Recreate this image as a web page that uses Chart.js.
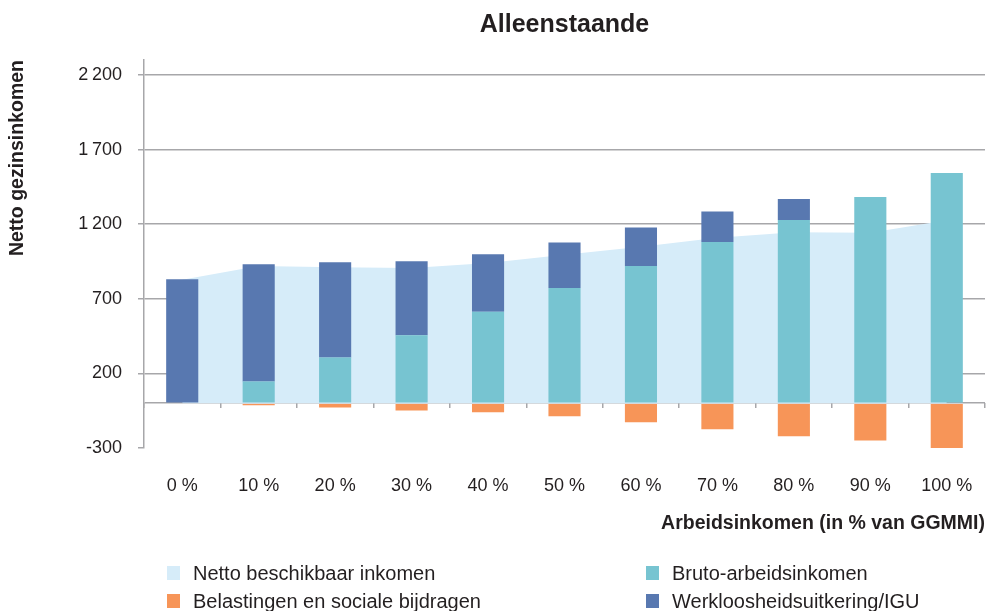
<!DOCTYPE html>
<html>
<head>
<meta charset="utf-8">
<script src="https://cdn.jsdelivr.net/npm/chart.js@4/dist/chart.umd.min.js"></script>
<style>
  html, body { margin: 0; padding: 0; background: #fff; }
  #wrap { position: relative; width: 986px; height: 611px; overflow: hidden; }
  canvas { position: absolute; left: 0; top: 0; }
  .leg { position: absolute; font-family: "Liberation Sans", Arial, sans-serif; font-size: 20px; color: #231f20; line-height: 22px; white-space: nowrap; }
  .leg .sw { position: absolute; left: 0; top: 4px; width: 13px; height: 14px; }
  .leg .tx { position: absolute; left: 26px; top: 0; }
</style>
</head>
<body>
<div id="wrap">
  <canvas id="c" width="986" height="611"></canvas>
  <div id="legend"></div>
</div>
<script>
// ---- data ----
const categories = ['0 %', '10 %', '20 %', '30 %', '40 %', '50 %', '60 %', '70 %', '80 %', '90 %', '100 %'];
const nettoInkomen = [828, 920, 912, 906, 940, 995, 1048, 1109, 1146, 1142, 1226];
const brutoArbeidsinkomen = [0, 146, 307, 455, 613, 773, 920, 1080, 1227, 1382, 1543];
const werkloosheidsuitkering = [831, 786, 638, 497, 385, 304, 257, 204, 141, 0, 0];
const belastingen = [0, -14, -28, -48, -61, -88, -128, -174, -222, -249, -316];
const yTicks = [-300, 0, 200, 700, 1200, 1700, 2200];
const seriesNames = ['Netto beschikbaar inkomen', 'Bruto-arbeidsinkomen', 'Belastingen en sociale bijdragen', 'Werkloosheidsuitkering/IGU'];

const colors = {
  netto: '#d6ecf9',
  bruto: '#77c4d1',
  belasting: '#f79558',
  ww: '#5878b0',
  grid: '#a7a7aa',
  text: '#231f20'
};
const FONT = '"Liberation Sans", Arial, sans-serif';

const fmt = v => {
  if (v === 0) return '';
  const s = String(Math.abs(v)).replace(/\B(?=(\d{3})+(?!\d))/g, '\u2009');
  return (v < 0 ? '-' : '') + s;
};

new Chart(document.getElementById('c'), {
  data: {
    labels: categories,
    datasets: [
      { type: 'line', label: seriesNames[0], data: nettoInkomen, stack: 'netto', order: 10,
        backgroundColor: colors.netto, borderWidth: 0, pointRadius: 0, fill: 'origin', tension: 0 },
      { type: 'bar', label: seriesNames[1], data: brutoArbeidsinkomen, stack: 'a', order: 1,
        backgroundColor: colors.bruto, barPercentage: 0.42, categoryPercentage: 1 },
      { type: 'bar', label: seriesNames[3], data: werkloosheidsuitkering, stack: 'a', order: 1,
        backgroundColor: colors.ww, barPercentage: 0.42, categoryPercentage: 1 },
      { type: 'bar', label: seriesNames[2], data: belastingen, stack: 'a', order: 1,
        backgroundColor: colors.belasting, barPercentage: 0.42, categoryPercentage: 1 }
    ]
  },
  options: {
    responsive: false,
    animation: false,
    devicePixelRatio: 1,
    layout: { padding: { left: 0, right: 1, top: 0, bottom: 76 } },
    plugins: {
      legend: { display: false },
      tooltip: { enabled: false },
      title: {
        display: true, text: 'Alleenstaande', fullSize: false,
        color: colors.text,
        font: { family: FONT, size: 25, weight: 'bold', lineHeight: 1.2 },
        padding: { top: 10, bottom: 20 }
      }
    },
    scales: {
      x: {
        type: 'category', stacked: true, position: 'bottom',
        afterFit: s => { s.height = 87; s.paddingLeft = 0; s.paddingRight = 0; },
        grid: { display: false, drawTicks: false },
        border: { display: false },
        ticks: { color: colors.text, font: { family: FONT, size: 18 }, padding: 27, maxRotation: 0, autoSkip: false },
        title: { display: true, text: 'Arbeidsinkomen (in % van GGMMI)', align: 'end', color: colors.text,
          font: { family: FONT, size: 19.5, weight: 'bold', lineHeight: 1.2 }, padding: { top: 0, bottom: 0 } }
      },
      x2: {
        type: 'category', labels: categories, position: { y: 0 }, offset: true,
        afterFit: s => { s.paddingLeft = 0; s.paddingRight = 0; },
        grid: { offset: true, drawOnChartArea: false, drawTicks: true, tickLength: 5, color: colors.grid, lineWidth: 1.5 },
        border: { display: false },
        ticks: { display: false }
      },
      y: {
        type: 'linear', stacked: true, min: -300, max: 2300,
        afterBuildTicks: s => { s.ticks = yTicks.map(v => ({ value: v })); },
        afterFit: s => { s.width = 144; },
        grid: {
          color: c => (c.tick && c.tick.value === -300) ? 'rgba(0,0,0,0)' : colors.grid,
          tickColor: c => (c.tick && c.tick.value === 0) ? 'rgba(0,0,0,0)' : colors.grid,
          lineWidth: 1.5, tickLength: 6, drawTicks: true
        },
        border: { display: true, color: colors.grid, width: 1.5 },
        ticks: { color: colors.text, font: { family: FONT, size: 18 }, padding: 16, callback: v => fmt(v) },
        title: { display: true, text: 'Netto gezinsinkomen', align: 'end', color: colors.text,
          font: { family: FONT, size: 19.5, weight: 'bold', lineHeight: 1.2 }, padding: { top: 6, bottom: 0 } }
      }
    }
  }
});

// ---- HTML legend (two columns) ----
const legendItems = [
  { name: seriesNames[0], color: colors.netto, x: 167, y: 562 },
  { name: seriesNames[1], color: colors.bruto, x: 646, y: 562 },
  { name: seriesNames[2], color: colors.belasting, x: 167, y: 590 },
  { name: seriesNames[3], color: colors.ww, x: 646, y: 590 }
];
const leg = document.getElementById('legend');
legendItems.forEach(it => {
  const d = document.createElement('div');
  d.className = 'leg';
  d.style.left = it.x + 'px';
  d.style.top = it.y + 'px';
  const sw = document.createElement('span');
  sw.className = 'sw';
  sw.style.background = it.color;
  const tx = document.createElement('span');
  tx.className = 'tx';
  tx.textContent = it.name;
  d.appendChild(sw); d.appendChild(tx);
  leg.appendChild(d);
});
</script>
</body>
</html>
